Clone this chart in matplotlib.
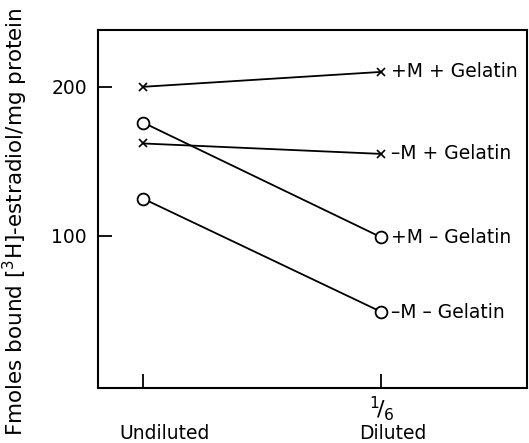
import matplotlib.pyplot as plt
from matplotlib.transforms import ScaledTranslation

# x positions: 0 = undiluted, 1 = diluted 1/6
x_pos = [0, 1]
x_labels = ['Undiluted', 'Diluted']
dilution = '$^1\\!/_6$'

plus_m_plus_gel = [200, 210]
minus_m_plus_gel = [162, 155]
plus_m_minus_gel = [176, 99]
minus_m_minus_gel = [125, 49]

series = [
    (plus_m_plus_gel, 'x', '+M + Gelatin'),
    (minus_m_plus_gel, 'x', '–M + Gelatin'),
    (plus_m_minus_gel, 'o', '+M – Gelatin'),
    (minus_m_minus_gel, 'o', '–M – Gelatin'),
]

fig = plt.figure(figsize=(5.29, 4.43), dpi=100)
ax = fig.add_axes([0.185, 0.124, 0.811, 0.808])

for vals, mk, name in series:
    if mk == 'o':
        ax.plot(x_pos, vals, color='black', lw=1.3, marker='o', ms=8.5,
                mfc='white', mec='black', mew=1.3)
    else:
        ax.plot(x_pos, vals, color='black', lw=1.3, marker='x', ms=6, mew=1.2)
    ax.annotate(name, (x_pos[1], vals[1]), xytext=(7, 0), textcoords='offset points',
                ha='left', va='center', fontsize=13.5)

ax.set_xlim(-0.19, 1.61)
ax.set_ylim(-2, 238)
ax.tick_params(axis='both', direction='in', length=10, width=1.3)
ax.tick_params(axis='y', pad=8)
ax.tick_params(axis='x', pad=26)
ax.set_xticks(x_pos)
ax.set_xticklabels(x_labels, fontsize=13.5)
ax.set_yticks([100, 200])
ax.set_yticklabels(['100', '200'], fontsize=13.5)
# the original labels sit a little right of their ticks
for lab, dx in zip(ax.get_xticklabels(), [21, 11]):
    lab.set_transform(lab.get_transform() + ScaledTranslation(dx / 100, 0, fig.dpi_scale_trans))
for s in ax.spines.values():
    s.set_linewidth(1.5)

# dilution fraction above the "Diluted" label
ax.annotate(dilution, (x_pos[1], 0), xycoords=('data', 'axes fraction'),
            xytext=(0, -15), textcoords='offset points',
            ha='center', va='center', fontsize=16)

fig.text(15 / 529, 1 - 222 / 443, 'Fmoles bound [$^3$H]-estradiol/mg protein',
         rotation=90, ha='center', va='center', fontsize=15.5)

plt.savefig('out.png')
